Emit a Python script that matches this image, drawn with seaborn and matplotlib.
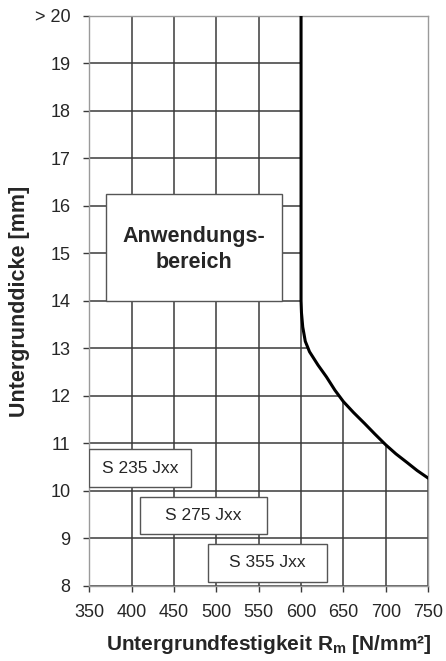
import numpy as np
import seaborn as sns
from matplotlib import pyplot as plt
from matplotlib.patches import Rectangle

# boundary curve of the application range
curve_x = [600, 600, 600.5, 602, 605, 610, 620, 630, 640, 650, 662, 675, 687, 700, 712, 725, 737, 750]
curve_y = [20, 14, 13.75, 13.45, 13.15, 12.93, 12.65, 12.4, 12.12, 11.88, 11.65, 11.42, 11.2,
           10.97, 10.78, 10.6, 10.43, 10.27]

x_ticks = [350, 400, 450, 500, 550, 600, 650, 700, 750]
y_ticks = [8, 9, 10, 11, 12, 13, 14, 15, 16, 17, 18, 19, 20]
y_ticklabels = ['8', '9', '10', '11', '12', '13', '14', '15', '16', '17', '18', '19', '> 20']

# steel grade boxes: label, x0, x1, y0, y1
grade_labels = ['S 235 Jxx', 'S 275 Jxx', 'S 355 Jxx']
grade_x0 = [350, 410, 490]
grade_x1 = [470, 560, 631]
grade_y0 = [10.08, 9.09, 8.09]
grade_y1 = [10.88, 9.88, 8.88]

area_label = 'Anwendungs-\nbereich'
area_box = (370, 578, 14.0, 16.25)

sns.set_style('white')
plt.rcParams['font.family'] = ['Liberation Sans', 'DejaVu Sans']

fig = plt.figure(figsize=(4.46, 6.61), dpi=100)
ax = fig.add_axes([0.2, 0.1135, 0.76, 0.8625])

grid_kw = dict(color='#3a3a3a', lw=1.1, zorder=1)

# horizontal grid lines up to the curve
cx = np.array(curve_x, dtype=float)
cy = np.array(curve_y, dtype=float)
order = np.argsort(cy[1:])
for y in y_ticks:
    if y >= 14:
        xe = 600
    elif y <= cy.min():
        xe = 750
    else:
        xe = np.interp(y, cy[1:][order], cx[1:][order])
    ax.hlines(y, 350, xe, **grid_kw)

# vertical grid lines up to the curve
for x in x_ticks:
    if x <= 600:
        ye = 20
    else:
        ye = np.interp(x, cx[1:], cy[1:])
    ax.vlines(x, 8, ye, **grid_kw)

sns.lineplot(x=curve_x, y=curve_y, sort=False, estimator=None, color='black',
             lw=2.2, ax=ax, zorder=3)

# boxes
bx0, bx1, by0, by1 = area_box
ax.add_patch(Rectangle((bx0, by0), bx1 - bx0, by1 - by0, facecolor='white',
                       edgecolor='#555555', lw=1.0, zorder=4))
ax.text((bx0 + bx1) / 2, (by0 + by1) / 2 - 0.05, area_label, ha='center', va='center',
        fontsize=15.5, fontweight='bold', linespacing=1.3, zorder=5)

for lab, x0, x1, y0, y1 in zip(grade_labels, grade_x0, grade_x1, grade_y0, grade_y1):
    ax.add_patch(Rectangle((x0, y0), x1 - x0, y1 - y0, facecolor='white',
                           edgecolor='#555555', lw=1.0, zorder=4))
    ax.text((x0 + x1) / 2, (y0 + y1) / 2, lab, ha='center', va='center',
            fontsize=12.5, zorder=5)

ax.set_xlim(350, 750)
ax.set_ylim(8, 20)
ax.set_xticks(x_ticks)
ax.set_yticks(y_ticks)
ax.set_yticklabels(y_ticklabels)
ax.tick_params(axis='both', labelsize=13, length=4.3, width=1, color='#3a3a3a',
               direction='out', bottom=True, left=True)
ax.tick_params(axis='y', pad=9)
ax.tick_params(axis='x', pad=9)

for s in ax.spines.values():
    s.set_color('#9a9a9a')
    s.set_linewidth(1.0)

ax.set_xlabel('Untergrundfestigkeit R$_\\mathregular{m}$ [N/mm²]', fontsize=15,
              fontweight='bold')
ax.set_ylabel('Untergrunddicke [mm]', fontsize=15.5, fontweight='bold')
ax.xaxis.set_label_coords(0.53, -0.082)
ax.yaxis.set_label_coords(-0.175, 0.5)

fig.savefig('out.png', dpi=100)
plt.close(fig)
